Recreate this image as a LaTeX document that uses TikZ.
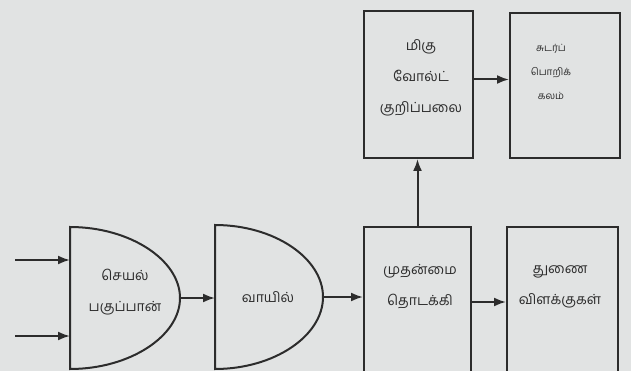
\documentclass[tikz,border=0pt]{standalone}
\usepackage{fontspec}
\newfontfamily\tamilfont[Script=Tamil]{Hind Madurai}
\usepackage{xcolor}
\usetikzlibrary{arrows.meta}
\definecolor{paper}{HTML}{E1E3E3}
\definecolor{ink}{HTML}{2C2C2C}

\begin{document}
\begin{tikzpicture}[x=1pt, y=-1pt, line width=2pt, draw=ink,
  block/.style={draw=ink, rectangle, anchor=north west, inner sep=0pt},
  gatebox/.style={rectangle, anchor=north west, inner sep=0pt, outer sep=0pt},
  txt/.style={text=ink, align=center, font=\tamilfont\fontsize{14}{31}\selectfont},
  arr/.style={-{Latex[length=12pt,width=9pt]}}]
\fill[paper] (0,0) rectangle (631,371);
\clip (0,0) rectangle (631,371);

% gates
\node[gatebox, minimum width=110pt, minimum height=142pt] (seyal) at (70,227) {};
\node[gatebox, minimum width=108pt, minimum height=144pt] (vaayil) at (215,225) {};
\draw (seyal.north west) -- (seyal.south west)
  .. controls ([xshift=60pt]seyal.south west) and ([yshift=-38pt]seyal.east) .. (seyal.east)
  .. controls ([yshift=38pt]seyal.east) and ([xshift=60pt]seyal.north west) .. cycle;
\draw (vaayil.north west) -- (vaayil.south west)
  .. controls ([xshift=59pt]vaayil.south west) and ([yshift=-39pt]vaayil.east) .. (vaayil.east)
  .. controls ([yshift=39pt]vaayil.east) and ([xshift=59pt]vaayil.north west) .. cycle;

% boxes
\node[block, minimum width=107pt, minimum height=150pt] (mudhal) at (363,226) {};
\node[block, minimum width=111pt, minimum height=150pt] (thunai) at (506,226) {};
\node[block, minimum width=109pt, minimum height=147pt] (migu) at (363,10) {};
\node[block, minimum width=110pt, minimum height=145pt] (sudar) at (509,12) {};

% texts
\node[txt] (seyal-t) at (125,292) {செயல்\\பகுப்பான்};
\node[txt] (vaayil-t) at (268,297) {வாயில்};
\node[txt] (mudhal-t) at (420,287) {முதன்மை\\தொடக்கி};
\node[txt] (thunai-t) at (560,287) {துணை\\விளக்குகள்};
\node[txt] (migu-t) at (421,78) {மிகு\\வோல்ட்\\குறிப்பலை};
\node[txt, font=\tamilfont\fontsize{10}{24}\selectfont] (sudar-t) at (551,72) {சுடர்ப்\\பொறிக்\\கலம்};

% connectors
\coordinate (in1) at (15,260);
\coordinate (in2) at (15,336);
\draw[arr] (in1) -- (in1 -| seyal.west);
\draw[arr] (in2) -- (in2 -| seyal.west);
\draw[arr] (seyal.east) -- (seyal.east -| vaayil.west);
\draw[arr] (vaayil.east) -- (vaayil.east -| mudhal.west);
\draw[arr] (mudhal.east) -- (mudhal.east -| thunai.west);
\draw[arr] (mudhal.north) -- (mudhal.north |- migu.south);
\draw[arr] ([yshift=5pt]migu.east) -- ([yshift=5pt]migu.east -| sudar.west);
\end{tikzpicture}
\end{document}
